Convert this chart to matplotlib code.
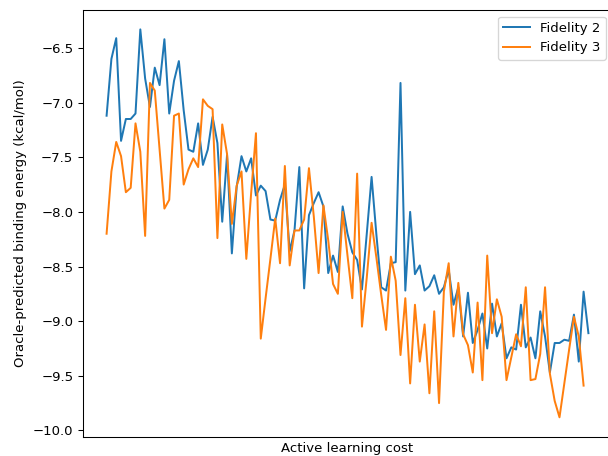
import numpy as np
import matplotlib
matplotlib.use("Agg")
import matplotlib.pyplot as plt

# oracle-predicted binding energies per AL step (kcal/mol)
fidelity2 = [
    -7.12, -6.60, -6.41, -7.35, -7.15, -7.15, -7.10, -6.33, -6.78, -7.04,
    -6.68, -6.84, -6.42, -7.10, -6.80, -6.62, -7.07, -7.43, -7.45, -7.19,
    -7.57, -7.43, -7.13, -7.37, -8.09, -7.48, -8.38, -7.77, -7.49, -7.63,
    -7.51, -7.85, -7.76, -7.81, -8.07, -8.08, -7.89, -7.75, -8.36, -8.17,
    -7.59, -8.70, -8.03, -7.92, -7.82, -7.95, -8.56, -8.40, -8.55, -7.95,
    -8.20, -8.37, -8.44, -8.71, -8.20, -7.68, -8.21, -8.69, -8.72, -8.47,
    -8.46, -6.82, -8.72, -8.00, -8.57, -8.49, -8.72, -8.68, -8.58, -8.75,
    -8.69, -8.53, -8.85, -8.69, -9.14, -8.74, -9.20, -9.08, -8.93, -9.25,
    -8.84, -9.14, -9.02, -9.34, -9.24, -9.26, -8.85, -9.24, -9.15, -9.34,
    -8.91, -9.14, -9.47, -9.20, -9.20, -9.17, -9.18, -8.94, -9.37, -8.73,
    -9.11,
]
fidelity3 = [
    -8.20, -7.63, -7.36, -7.49, -7.82, -7.78, -7.19, -7.45, -8.22, -6.82,
    -6.89, -7.43, -7.97, -7.89, -7.12, -7.10, -7.75, -7.61, -7.51, -7.59,
    -6.97, -7.03, -7.06, -8.24, -7.20, -7.47, -8.11, -7.76, -7.63, -8.43,
    -7.83, -7.28, -9.16, -8.79, -8.43, -8.06, -8.47, -7.58, -8.49, -8.17,
    -8.17, -8.07, -7.60, -8.04, -8.56, -7.94, -8.26, -8.66, -8.75, -8.00,
    -8.40, -8.79, -7.65, -9.05, -8.60, -8.10, -8.42, -8.76, -9.08, -8.41,
    -8.63, -9.31, -8.79, -9.57, -8.85, -9.37, -9.03, -9.66, -8.91, -9.75,
    -8.73, -8.47, -9.14, -8.65, -9.12, -9.22, -9.47, -8.83, -9.54, -8.40,
    -9.11, -8.80, -8.96, -9.54, -9.33, -9.12, -9.23, -8.69, -9.54, -9.53,
    -9.30, -8.69, -9.48, -9.73, -9.88, -9.57, -9.26, -8.96, -9.14, -9.59,
]
labels = ["Fidelity 2", "Fidelity 3"]

fig = plt.figure(figsize=(6.4, 4.8), dpi=95)
# original was cropped on the right, so the axes runs past the figure edge
ax = fig.add_axes([82.5 / 608, 19.3 / 456, 530 / 608, 426.7 / 456])

ax.plot(np.arange(len(fidelity2)), fidelity2, label=labels[0])
ax.plot(np.arange(len(fidelity3)), fidelity3, label=labels[1])

ax.set_xticks([])
ax.set_xlabel("Active learning cost")
ax.set_ylabel("Oracle-predicted binding energy (kcal/mol)")
ax.legend(loc="upper right")

fig.savefig("out.png", dpi=95)
